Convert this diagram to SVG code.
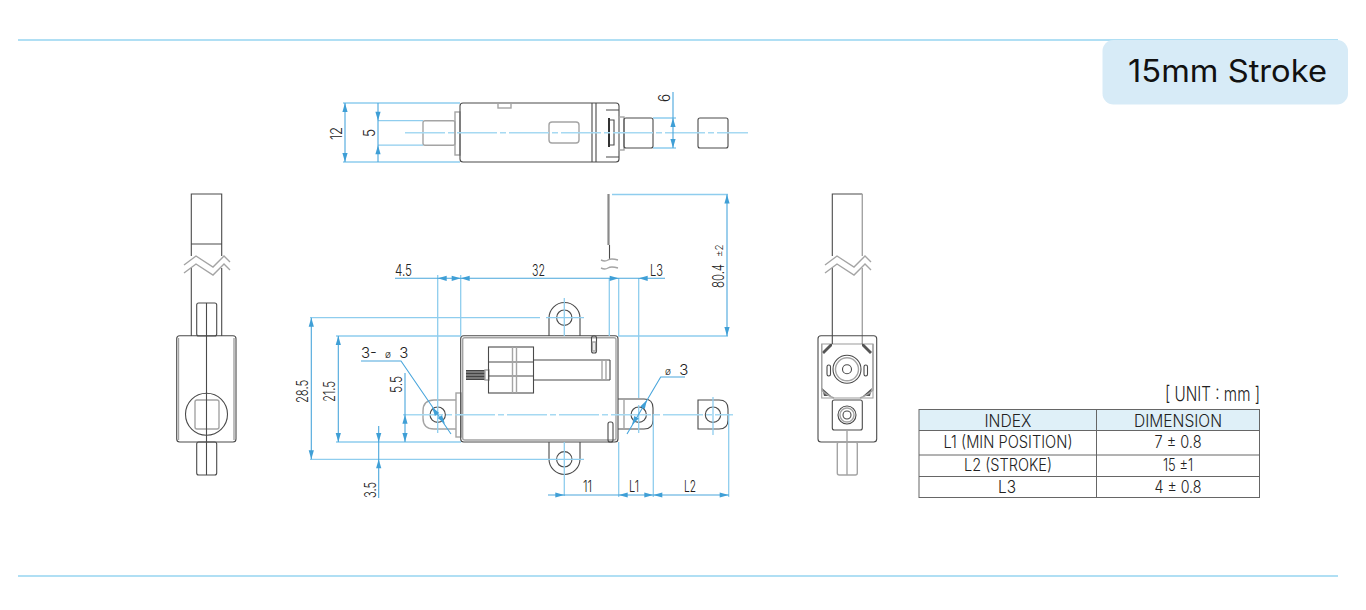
<svg xmlns="http://www.w3.org/2000/svg" xmlns:xlink="http://www.w3.org/1999/xlink" width="1366" height="610" viewBox="0 0 1366 610">
<style>
.o{fill:none;stroke:#4a4a4a;stroke-width:1.1}
.w{fill:#fff;stroke:#4a4a4a;stroke-width:1.1}
.g{fill:none;stroke:#a4a4a4;stroke-width:1.4}
.d{fill:none;stroke:#4aa6dc;stroke-width:1.1}
.e{fill:none;stroke:#8fcdee;stroke-width:1.3}
.c{fill:none;stroke:#a6d9f2;stroke-width:1.4;stroke-dasharray:40 3 6 3}
.rule{stroke:#b0dff4;stroke-width:2}
.t{font-family:"Inter","Liberation Sans",sans-serif;font-weight:300;font-size:16px;fill:#222}
.tb{font-family:"Inter","Liberation Sans",sans-serif;font-weight:300;font-size:17px;fill:#222;text-anchor:middle}
.cell{fill:none;stroke:#666;stroke-width:1}
.dia{font-size:15px;word-spacing:4px}
.dia tspan{font-size:10px}
</style>
<defs>
<polygon id="a" points="0,0 -9,-2.6 -9,2.6" fill="#3f9fd6"/>
</defs>
<rect width="1366" height="610" fill="#fff"/>
<g id="frame">
<line class="rule" x1="18" y1="40" x2="1338" y2="40"/>
<line class="rule" x1="18" y1="576" x2="1338" y2="576"/>
</g>
<g id="badge">
<rect x="1102.500" y="40" width="245.500" height="64.500" rx="11" fill="#d7ebf7"/>
<text x="1128" y="82" font-family="Inter,'Noto Sans',sans-serif" font-size="31" font-weight="400" fill="#111" textLength="199" lengthAdjust="spacingAndGlyphs">15mm Stroke</text>
</g>

<g id="view-top">
<rect class="g" x="423" y="120.700" width="32" height="24.500" rx="2"/>
<rect class="g" x="455" y="112" width="5" height="43"/>
<rect class="o" x="460" y="103" width="159" height="59" rx="3"/>
<line class="o" x1="592" y1="103" x2="592" y2="162"/>
<line class="o" x1="596" y1="103" x2="596" y2="162"/>
<rect class="g" x="498" y="103" width="13" height="5"/>
<rect class="g" x="549" y="122" width="30" height="21" rx="3"/>
<path class="o" d="M606 110H619M606 157H619M610 120H614V145H610"/>
<path d="M609 118V147" stroke="#333" stroke-width="2"/>
<rect class="g" x="619" y="117" width="5" height="33"/>
<rect class="o" x="624" y="118" width="29" height="30" rx="2"/>
<rect class="o" x="698" y="118" width="30" height="30" rx="2"/>
</g>

<g id="view-left">
<path class="o" d="M191.300 256V194H221.700V256M191.300 244H221.700M191.300 268V336M221.700 268V336"/>
<path class="g" d="M184 265L196 256L213 267L224 256L230 262M184 273L196 264L213 275L224 264L230 270"/>
<rect class="o" x="196.700" y="303" width="20" height="33" rx="2"/>
<rect class="o" x="176.700" y="335.700" width="59.300" height="106.300" rx="3"/>
<path class="g" d="M178.500 338V440M234 338V440"/>
<circle class="o" cx="206.500" cy="414.300" r="21"/>
<rect class="g" x="195" y="400" width="24" height="29" rx="2"/>
<path class="o" d="M206.500 303V475"/>
<rect class="o" x="196.700" y="442" width="20" height="33" rx="2"/>
</g>

<g id="view-main">
<rect class="g" x="456" y="393" width="5" height="44"/>
<path class="g" d="M456 400H434Q423 400 423 411V418Q423 429 434 429H456"/>
<path class="o" d="M549 336V318A15.500 15.500 0 0 1 580 318V336"/>
<path class="o" d="M549 442V459A15.500 15.500 0 0 0 580 459V442"/>
<path class="o" d="M618 399H644Q653 399 653 408V420Q653 429 644 429H618"/>
<line class="g" x1="624" y1="399" x2="624" y2="429"/>
<circle class="o" cx="437.700" cy="414.700" r="7.700"/>
<circle class="o" cx="564.300" cy="317.700" r="7.700"/>
<circle class="o" cx="564.300" cy="459.300" r="7.700"/>
<circle class="o" cx="638.700" cy="414.700" r="7.700"/>
<path class="o" d="M698 400H719Q728 400 728 409V420Q728 429 719 429H698Z"/>
<circle class="o" cx="713" cy="414.700" r="7.700"/>
<rect class="o" x="460.700" y="335.700" width="157.300" height="106.300" rx="3"/>
<rect class="g" x="462.700" y="337.700" width="153.300" height="102.300" rx="2"/>
<path d="M608.500 194V245" stroke="#8a8a8a" stroke-width="2.200" fill="none"/>
<path class="o" d="M609.500 245V259"/>
<path class="g" d="M601 260Q605 262 608 260T618 260M601 268Q605 270 608 268T618 268"/>
<rect x="466" y="370" width="19" height="10" fill="#444"/>
<path d="M466 372H485M466 375H485M466 378H485" stroke="#ccc" stroke-width="0.8"/>
<rect class="g" x="485" y="370" width="4" height="10"/>
<rect class="o" x="488.500" y="347" width="45" height="46"/>
<path class="o" d="M488.500 362H533.500M488.500 376H533.500M533.500 360H610M533.500 380H610M610 360V380"/>
<path class="g" d="M512.500 347V393M516.500 347V393M602 360V380M606 360V380"/>
<rect class="o" x="591.500" y="336" width="5" height="17" rx="2"/>
<rect class="g" x="592.500" y="342" width="3" height="9"/>
<rect class="o" x="608" y="422" width="5" height="20" rx="2"/>
</g>

<g id="view-right">
<path class="o" d="M832.300 256V194H862.300M832.300 268V345"/>
<path class="g" d="M862.300 194V256M862.300 268V345"/>
<path class="g" d="M825 265L837 256L854 267L865 256L871 262M825 273L837 264L854 275L865 264L871 270"/>
<rect class="o" x="818" y="335.700" width="58.700" height="106.300" rx="3"/>
<rect class="w" x="821.700" y="344" width="51.300" height="54" stroke-opacity="0.5"/>
<path d="M822 352L830 344H832V346L824 354Z M872 352L864 344H862V346L870 354Z M822 388L831 396H824Z M872 388L863 396H870Z" fill="#555"/>
<path class="g" d="M821.700 344V390Q826 395 834 398M873 344V390Q868 395 860 398"/>
<circle class="o" cx="847" cy="369.300" r="14"/>
<circle class="g" cx="847" cy="369.300" r="11.500"/>
<circle class="o" cx="847" cy="369.300" r="4.500"/>
<rect class="o" x="827" y="365" width="3.500" height="11" rx="1.700"/>
<rect class="o" x="864" y="365" width="3.500" height="11" rx="1.700"/>
<rect class="w" x="832.300" y="400" width="30" height="30" rx="2"/>
<circle class="o" cx="847" cy="415" r="9"/>
<circle class="g" cx="847" cy="415" r="7"/>
<circle class="o" cx="847" cy="415" r="4"/>
<rect class="g" x="837.300" y="442" width="20" height="33" rx="2"/>
<path class="g" d="M847 430V475"/>
</g>

<g id="connectors">
<path class="c" d="M405 132.700H748"/>
<path class="c" d="M403 414.700H733"/>
<path class="e" d="M343 103H460M343 162H460M378 120.700H423M378 145.200H423M653 118H676M653 148H676"/>
<path class="d" d="M345 103V162M378 103V162M673 92V148"/>
<use xlink:href="#a" transform="translate(345,103) rotate(-90)"/>
<use xlink:href="#a" transform="translate(345,162) rotate(90)"/>
<use xlink:href="#a" transform="translate(378,120.700) rotate(90)"/>
<use xlink:href="#a" transform="translate(378,145.200) rotate(-90)"/>
<use xlink:href="#a" transform="translate(673,118) rotate(-90)"/>
<use xlink:href="#a" transform="translate(673,148) rotate(90)"/>

<path class="e" d="M437.700 275V433M460.700 275V336M609.300 278V336M618.700 278V336M638.700 278V398M638.700 405V433"/>
<path class="e" d="M612 194.500H728M618 336H728"/>
<path class="e" d="M310 317.700H540M546 317.700H584M310 459.300H584M336 336H461M336 442H461"/>
<path class="e" d="M564.300 298V336M564.300 442V496M618.700 442V497M653.300 414V497M728.700 414V497M713 397V435"/>
<path class="d" d="M727 194.500V336M395 278.300H665M311.300 317.700V459.300M338.300 336V442M405 373V442M378.700 426V498M548 495H729"/>
<use xlink:href="#a" transform="translate(727,194.500) rotate(-90)"/>
<use xlink:href="#a" transform="translate(727,336) rotate(90)"/>
<use xlink:href="#a" transform="translate(437.700,278.300) rotate(180)"/>
<use xlink:href="#a" transform="translate(460.700,278.300)"/>
<use xlink:href="#a" transform="translate(460.700,278.300) rotate(180)"/>
<use xlink:href="#a" transform="translate(618.700,278.300)"/>
<use xlink:href="#a" transform="translate(638.700,278.300) rotate(180)"/>
<use xlink:href="#a" transform="translate(311.300,317.700) rotate(-90)"/>
<use xlink:href="#a" transform="translate(311.300,459.300) rotate(90)"/>
<use xlink:href="#a" transform="translate(338.300,336) rotate(-90)"/>
<use xlink:href="#a" transform="translate(338.300,442) rotate(90)"/>
<use xlink:href="#a" transform="translate(405,414.700) rotate(-90)"/>
<use xlink:href="#a" transform="translate(405,442) rotate(90)"/>
<use xlink:href="#a" transform="translate(378.700,442) rotate(90)"/>
<use xlink:href="#a" transform="translate(378.700,459.300) rotate(-90)"/>
<use xlink:href="#a" transform="translate(564.300,495)"/>
<use xlink:href="#a" transform="translate(618.700,495) rotate(180)"/>
<use xlink:href="#a" transform="translate(653.300,495)"/>
<use xlink:href="#a" transform="translate(653.300,495) rotate(180)"/>
<use xlink:href="#a" transform="translate(728.700,495)"/>
<path class="d" d="M361 361H401L451 434"/>
<use xlink:href="#a" transform="translate(432,407) rotate(-124)"/>
<use xlink:href="#a" transform="translate(445,424) rotate(55)"/>
<path class="d" d="M627 434L660.700 377H685"/>
<use xlink:href="#a" transform="translate(632,425) rotate(120)"/>
<use xlink:href="#a" transform="translate(647,400) rotate(-60)"/>
</g>

<g id="dimension-labels" class="t">
<text transform="translate(342,140) rotate(-90)" textLength="13" lengthAdjust="spacingAndGlyphs">12</text>
<text transform="translate(375,137) rotate(-90)" textLength="8" lengthAdjust="spacingAndGlyphs">5</text>
<text transform="translate(670,102) rotate(-90)" textLength="8" lengthAdjust="spacingAndGlyphs">6</text>
<text x="395" y="276" textLength="17" lengthAdjust="spacingAndGlyphs">4.5</text>
<text x="532" y="276" textLength="13" lengthAdjust="spacingAndGlyphs">32</text>
<text x="650" y="276" textLength="13" lengthAdjust="spacingAndGlyphs">L3</text>
<text transform="translate(724,288) rotate(-90)" textLength="24" lengthAdjust="spacingAndGlyphs">80.4</text>
<text transform="translate(723,257) rotate(-90)" style="font-size:10px">±2</text>
<text class="dia" x="361" y="358">3- <tspan>ø</tspan> 3</text>
<text class="dia" x="665" y="375"><tspan>ø</tspan> 3</text>
<text transform="translate(308,403) rotate(-90)" textLength="23" lengthAdjust="spacingAndGlyphs">28.5</text>
<text transform="translate(335,402) rotate(-90)" textLength="21" lengthAdjust="spacingAndGlyphs">21.5</text>
<text transform="translate(402,393) rotate(-90)" textLength="17" lengthAdjust="spacingAndGlyphs">5.5</text>
<text transform="translate(376,498) rotate(-90)" textLength="16" lengthAdjust="spacingAndGlyphs">3.5</text>
<text x="583" y="492" textLength="9" lengthAdjust="spacingAndGlyphs">11</text>
<text x="629" y="492" textLength="10" lengthAdjust="spacingAndGlyphs">L1</text>
<text x="684" y="492" textLength="12" lengthAdjust="spacingAndGlyphs">L2</text>
</g>

<g id="table">
<text x="1165" y="401" class="t" style="font-size:20px" textLength="95" lengthAdjust="spacingAndGlyphs">[ UNIT : mm ]</text>
<rect x="919" y="409.500" width="340.500" height="21" fill="#dff0f8"/>
<rect class="cell" x="919" y="409.500" width="340.500" height="88"/>
<path class="cell" d="M1096.500 409.500V497.500M919 430.500H1259.500M919 455H1259.500M919 476.500H1259.500"/>
<text class="tb" x="1008" y="426.500" textLength="47" lengthAdjust="spacingAndGlyphs">INDEX</text>
<text class="tb" x="1178" y="426.500" textLength="88" lengthAdjust="spacingAndGlyphs">DIMENSION</text>
<text class="tb" x="1008" y="448" textLength="129" lengthAdjust="spacingAndGlyphs">L1 (MIN POSITION)</text>
<text class="tb" x="1178" y="448" textLength="47" lengthAdjust="spacingAndGlyphs">7 ± 0.8</text>
<text class="tb" x="1008" y="470.500" textLength="88" lengthAdjust="spacingAndGlyphs">L2 (STROKE)</text>
<text class="tb" x="1178" y="470.500" textLength="30" lengthAdjust="spacingAndGlyphs">15 ±1</text>
<text class="tb" x="1007" y="492.500" textLength="18" lengthAdjust="spacingAndGlyphs">L3</text>
<text class="tb" x="1178" y="492.500" textLength="47" lengthAdjust="spacingAndGlyphs">4 ± 0.8</text>
</g>
</svg>
